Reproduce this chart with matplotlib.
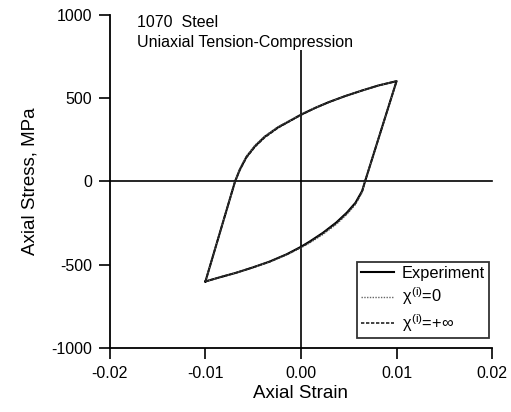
import matplotlib
matplotlib.use("Agg")
import matplotlib.pyplot as plt

plt.rcParams["font.family"] = ["Liberation Sans", "DejaVu Sans"]
plt.rcParams["mathtext.fontset"] = "custom"
plt.rcParams["mathtext.rm"] = "Liberation Sans"
plt.rcParams["mathtext.it"] = "Liberation Sans"
plt.rcParams["mathtext.bf"] = "Liberation Sans:bold"

# Stabilised hysteresis loop, 1070 steel, strain amplitude 1 %
# Loading branch: compression tip -> tension tip
up_strain = [-0.0100, -0.0069, -0.0064, -0.0057, -0.0048, -0.0038, -0.0024,
             -0.0010, 0.0000, 0.0015, 0.0029, 0.0046, 0.0064, 0.0081, 0.0100]
# Unloading branch: tension tip -> compression tip
dn_strain = [0.0100, 0.0067, 0.0064, 0.0057, 0.0048, 0.0037, 0.0023,
             0.0009, 0.0000, -0.0015, -0.0033, -0.0050, -0.0068, -0.0085, -0.0100]

exp_up_stress = [-600, 0, 72, 148, 213, 268, 325, 369, 401, 442, 476, 512, 546, 576, 602]
exp_dn_stress = [602, 0, -57, -128, -187, -246, -308, -361, -392, -437, -481, -515, -548, -575, -600]

# Model, chi^(i) = 0
chi0_up_stress = [-600, 0, 76, 153, 218, 272, 328, 371, 403, 443, 477, 512, 546, 576, 602]
chi0_dn_stress = [602, 0, -65, -138, -198, -257, -318, -369, -398, -440, -483, -516, -548, -575, -600]

# Model, chi^(i) = +inf
chinf_up_stress = [-600, 0, 68, 144, 209, 264, 322, 367, 399, 441, 475, 512, 546, 576, 602]
chinf_dn_stress = [602, 0, -60, -132, -191, -250, -311, -364, -394, -438, -482, -515, -548, -575, -600]

x_ticks = [-0.02, -0.01, 0.00, 0.01, 0.02]
y_ticks = [-1000, -500, 0, 500, 1000]

fig = plt.figure(figsize=(5.11, 4.12), dpi=100)
ax = fig.add_axes([0.215, 0.155, 0.748, 0.809])

# reference lines through the origin
ax.axhline(0, color="black", lw=1.2, zorder=1, clip_on=False)
ax.vlines(0, -1000, 790, color="black", lw=1.2, zorder=1)

loop_strain = up_strain + dn_strain
ax.plot(loop_strain, exp_up_stress + exp_dn_stress, color="black", lw=1.5,
        solid_joinstyle="round", label="Experiment", zorder=3)
ax.plot(loop_strain, chi0_up_stress + chi0_dn_stress, color="#666666", lw=1.0,
        linestyle=(0, (1, 1)), label=r"$\chi^{(i)}$=0", zorder=4)
ax.plot(loop_strain, chinf_up_stress + chinf_dn_stress, color="#222222", lw=1.2,
        linestyle=(0, (2, 1)), label=r"$\chi^{(i)}$=+∞", zorder=5)

ax.set_xlim(-0.02, 0.02)
ax.set_ylim(-1000, 1000)
ax.set_xticks(x_ticks)
ax.set_xticklabels([f"{v:.2f}" for v in x_ticks])
ax.set_yticks(y_ticks)
ax.set_yticklabels([str(v) for v in y_ticks])

for side in ("top", "right"):
    ax.spines[side].set_visible(False)
for side in ("left", "bottom"):
    ax.spines[side].set_linewidth(1.3)

ax.tick_params(direction="out", length=8, width=1.2, pad=5, labelsize=11.5)

ax.set_xlabel("Axial Strain", fontsize=13.5, labelpad=3)
ax.set_ylabel("Axial Stress, MPa", fontsize=13.5, labelpad=9)

ax.text(-0.0172, 1000, "1070  Steel", fontsize=11.5, va="top", ha="left")
ax.text(-0.0172, 880, "Uniaxial Tension-Compression", fontsize=11.5,
        va="top", ha="left")

leg = ax.legend(loc="lower right", bbox_to_anchor=(0.992, 0.03), fontsize=11.8,
                frameon=True, fancybox=False, edgecolor="black",
                handlelength=2.0, handletextpad=0.5, borderpad=0.25,
                labelspacing=0.3, borderaxespad=0)
leg.get_frame().set_linewidth(1.3)

fig.savefig("out.png", dpi=100)
